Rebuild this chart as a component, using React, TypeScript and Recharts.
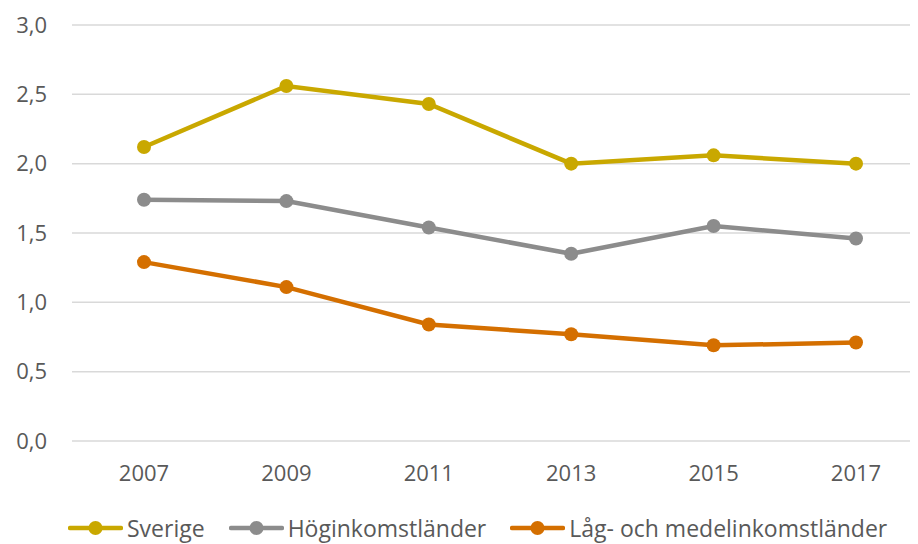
import { LineChart, Line, XAxis, YAxis, CartesianGrid, Legend } from "recharts"

const years = ["2007", "2009", "2011", "2013", "2015", "2017"]
const sverige = [2.12, 2.56, 2.43, 2.0, 2.06, 2.0]
const hoginkomst = [1.74, 1.73, 1.54, 1.35, 1.55, 1.46]
const lagMedel = [1.29, 1.11, 0.84, 0.77, 0.69, 0.71]
const yTicks = [0, 0.5, 1, 1.5, 2, 2.5, 3]

const series = [
    { key: "sverige", name: "Sverige", color: "#C9A800" },
    { key: "hog", name: "Höginkomstländer", color: "#8C8C8C" },
    { key: "lag", name: "Låg- och medelinkomstländer", color: "#D46F00" },
]

const data = years.map((year, i) => ({
    year,
    sverige: sverige[i],
    hog: hoginkomst[i],
    lag: lagMedel[i],
}))

const fmt = (v: number) => v.toFixed(1).replace(".", ",")

const font = "'Open Sans', sans-serif"

function LegendRow() {
    return (
        <div style={{ height: 32, display: "flex", justifyContent: "flex-start", alignItems: "center", paddingLeft: 60, gap: 24, fontFamily: font, fontSize: 23, color: "#595959" }}>
            {series.map((s) => (
                <div key={s.key} style={{ display: "flex", alignItems: "center" }}>
                    <svg width={55} height={16} style={{ marginRight: 4 }}>
                        <line x1={2} y1={8} x2={53} y2={8} stroke={s.color} strokeWidth={4.5} strokeLinecap="round" />
                        <circle cx={27.5} cy={8} r={7} fill={s.color} />
                    </svg>
                    <span>{s.name}</span>
                </div>
            ))}
        </div>
    )
}

export default function App() {
    return (
        <LineChart width={910} height={536} data={data} margin={{ top: 17, right: 0, left: 0, bottom: 0 }}>
            <CartesianGrid vertical={false} stroke="#D9D9D9" strokeWidth={1.5} />
            <XAxis
                dataKey="year"
                axisLine={false}
                tickLine={false}
                tickSize={0}
                tickMargin={24}
                height={71}
                padding={{ left: 72, right: 62 }}
                tick={{ fill: "#595959", fontSize: 22, fontFamily: font }}
            />
            <YAxis
                domain={[0, 3]}
                ticks={yTicks}
                tickFormatter={fmt}
                axisLine={false}
                tickLine={false}
                tickSize={0}
                tickMargin={25}
                width={64}
                tick={{ fill: "#595959", fontSize: 22, fontFamily: font }}
            />
            <Legend verticalAlign="bottom" content={() => <LegendRow />} />
            {series.map((s) => (
                <Line
                    key={s.key}
                    dataKey={s.key}
                    name={s.name}
                    stroke={s.color}
                    strokeWidth={4.5}
                    dot={{ r: 7, fill: s.color, stroke: s.color, strokeWidth: 0 }}
                    activeDot={false}
                    isAnimationActive={false}
                />
            ))}
        </LineChart>
    )
}
